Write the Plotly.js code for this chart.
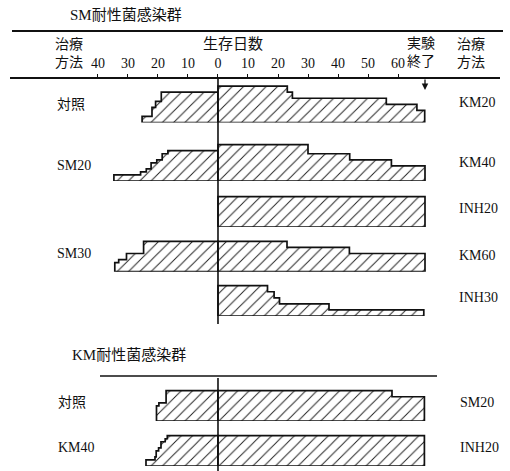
<!DOCTYPE html>
<html>
<head>
<meta charset="utf-8">
<script src="https://cdn.plot.ly/plotly-3.0.1.min.js"></script>
<style>html,body{margin:0;padding:0;background:#fff;}#chart{width:510px;height:471px;}</style>
</head>
<body>
<div id="chart"></div>
<script>
// ---------- DATA (days at which the survivor count changes, survivors in each interval) ----------
const tickDays   = [-40, -30, -20, -10, 0, 10, 20, 30, 40, 50, 60];
const tickLabels = ['40', '30', '20', '10', '0', '10', '20', '30', '40', '50', '60'];

// SM耐性菌感染群
const smCtrlDays  = [18.9, 20.8, 22.0, 25.3];                 const smCtrlN  = [10, 7, 5, 2];
const smKM20Days  = [23.1, 24.8, 56.1, 66.3, 68.9];           const smKM20N  = [12, 10, 8, 6, 4];
const smSM20Days  = [16.7, 18.6, 20.4, 22.3, 23.9, 25.8, 34.7]; const smSM20N = [10, 9, 7, 6, 4, 3, 2];
const smKM40Days  = [30.0, 43.9, 57.8, 69.0];                 const smKM40N  = [12, 9, 7, 5];
const smINH20Days = [69.0];                                   const smINH20N = [10];
const smSM30Days  = [24.8, 30.5, 33.1, 34.4];                 const smSM30N  = [10, 6, 4, 3];
const smKM60Days  = [23.0, 43.8, 69.0];                       const smKM60N  = [10, 8, 6];
const smINH30Days = [16.5, 18.7, 20.5, 37.0, 68.6];           const smINH30N = [10, 8, 6, 4, 2];

// KM耐性菌感染群
const kmCtrlDays  = [17.3, 19.7, 20.5];                       const kmCtrlN  = [10, 6, 5];
const kmSM20Days  = [58.0, 68.8];                             const kmSM20N  = [10, 8];
const kmKM40Days  = [16.9, 17.6, 19.0, 19.8, 20.6, 21.0, 24.0]; const kmKM40N = [10, 9, 8, 6, 5, 3, 2];
const kmINH20Days = [68.8];                                   const kmINH20N = [10];

const smLeftLabels  = ['対照', 'SM20', 'SM30'];
const smRightLabels = ['KM20', 'KM40', 'INH20', 'KM60', 'INH30'];
const kmLeftLabels  = ['対照', 'KM40'];
const kmRightLabels = ['SM20', 'INH20'];

// ---------- LAYOUT HELPERS ----------
const W = 510, H = 471, ML = 10, MR = 10;
const px = v => (v - ML) / (W - ML - MR);
const py = v => (H - v) / H;
const FONT = 'Liberation Serif, "Noto Sans CJK JP", serif';
const rowBase = [122.5, 181, 227, 271.7, 316, 421, 466];   // baseline pixel rows
const pxPerMouse = 3.03, rowH = 40;

// each series: [days, counts, side(-1 left / +1 right), row]
const series = [
  [smCtrlDays, smCtrlN, -1, 0], [smKM20Days, smKM20N, 1, 0],
  [smSM20Days, smSM20N, -1, 1], [smKM40Days, smKM40N, 1, 1],
  [smINH20Days, smINH20N, 1, 2],
  [smSM30Days, smSM30N, -1, 3], [smKM60Days, smKM60N, 1, 3],
  [smINH30Days, smINH30N, 1, 4],
  [kmCtrlDays, kmCtrlN, -1, 5], [kmSM20Days, kmSM20N, 1, 5],
  [kmKM40Days, kmKM40N, -1, 6], [kmINH20Days, kmINH20N, 1, 6]
];

function outline(days, n, s) {
  const xs = [0], ys = [0];
  let t0 = 0;
  for (let i = 0; i < days.length; i++) {
    xs.push(s * t0, s * days[i]);
    ys.push(n[i], n[i]);
    t0 = days[i];
  }
  xs.push(s * t0, 0);
  ys.push(0, 0);
  return {xs, ys};
}

const traces = series.map(([d, n, s, r]) => {
  const o = outline(d, n, s);
  return {
    type: 'scatter', mode: 'lines', x: o.xs, y: o.ys,
    xaxis: 'x', yaxis: r === 0 ? 'y' : 'y' + (r + 1),
    fill: 'toself', fillcolor: '#fff',
    fillpattern: {shape: '/', size: 8, solidity: 0.12, fgcolor: '#222', bgcolor: '#fff'},
    line: {color: '#111', width: 1.7}, hoverinfo: 'skip', showlegend: false
  };
});

const layout = {
  width: W, height: H,
  margin: {l: ML, r: MR, t: 0, b: 0},
  paper_bgcolor: '#fff', plot_bgcolor: 'rgba(0,0,0,0)',
  showlegend: false,
  xaxis: {
    range: [-69.33, 94], anchor: 'free', position: py(77), side: 'top',
    showline: true, linecolor: '#111', linewidth: 1.6,
    ticks: 'outside', ticklen: 3, tickwidth: 1, tickcolor: '#111',
    tickvals: tickDays, ticktext: tickLabels,
    tickfont: {family: FONT, size: 14, color: '#111'},
    showgrid: false, zeroline: false, fixedrange: true
  },
  shapes: [
    {type: 'line', xref: 'paper', yref: 'paper', x0: px(12), x1: px(503), y0: py(31), y1: py(31), line: {color: '#111', width: 2}},
    {type: 'line', xref: 'x', yref: 'paper', x0: 0, x1: 0, y0: py(77), y1: py(324), line: {color: '#111', width: 1.6}},
    {type: 'line', xref: 'paper', yref: 'paper', x0: px(100), x1: px(437), y0: py(376), y1: py(376), line: {color: '#111', width: 1.6}},
    {type: 'line', xref: 'x', yref: 'paper', x0: 0, x1: 0, y0: py(378), y1: py(471), line: {color: '#111', width: 1.6}}
  ],
  annotations: []
};

rowBase.forEach((b, i) => {
  const key = i === 0 ? 'yaxis' : 'yaxis' + (i + 1);
  layout[key] = {
    domain: [py(b), py(b - rowH)], range: [0, rowH / pxPerMouse],
    visible: false, fixedrange: true, anchor: 'x'
  };
});

function txt(t, x, y, size, xanchor) {
  layout.annotations.push({
    text: t, xref: 'paper', yref: 'paper', x: px(x), y: py(y),
    xanchor: xanchor || 'left', yanchor: 'middle', showarrow: false,
    font: {family: FONT, size: size, color: '#111'}
  });
}

txt('SM耐性菌感染群', 68, 15, 15);
txt('KM耐性菌感染群', 70, 355, 15);
txt('治療<br>方法', 69, 53, 14, 'center');
txt('生存日数', 233, 44, 15, 'center');
txt('実験<br>終了', 421, 53, 14, 'center');
txt('治療<br>方法', 471, 53, 14, 'center');

const smLeftY = [105, 165, 253];
const smRightY = [103, 162, 208, 255, 297];
smLeftLabels.forEach((t, i) => txt(t, 55, smLeftY[i], 14));
smRightLabels.forEach((t, i) => txt(t, 457, smRightY[i], 14));
const kmY = [402, 447];
kmLeftLabels.forEach((t, i) => txt(t, 56, kmY[i], 14));
kmRightLabels.forEach((t, i) => txt(t, 458, kmY[i], 14));

// end-of-experiment arrow
layout.annotations.push({
  text: '', xref: 'x', yref: 'paper', x: 69, y: py(90), ax: 0, ay: -12,
  showarrow: true, arrowhead: 2, arrowsize: 1, arrowwidth: 1.3, arrowcolor: '#111'
});

Plotly.newPlot('chart', traces, layout, {staticPlot: true, displayModeBar: false});
</script>
</body>
</html>
